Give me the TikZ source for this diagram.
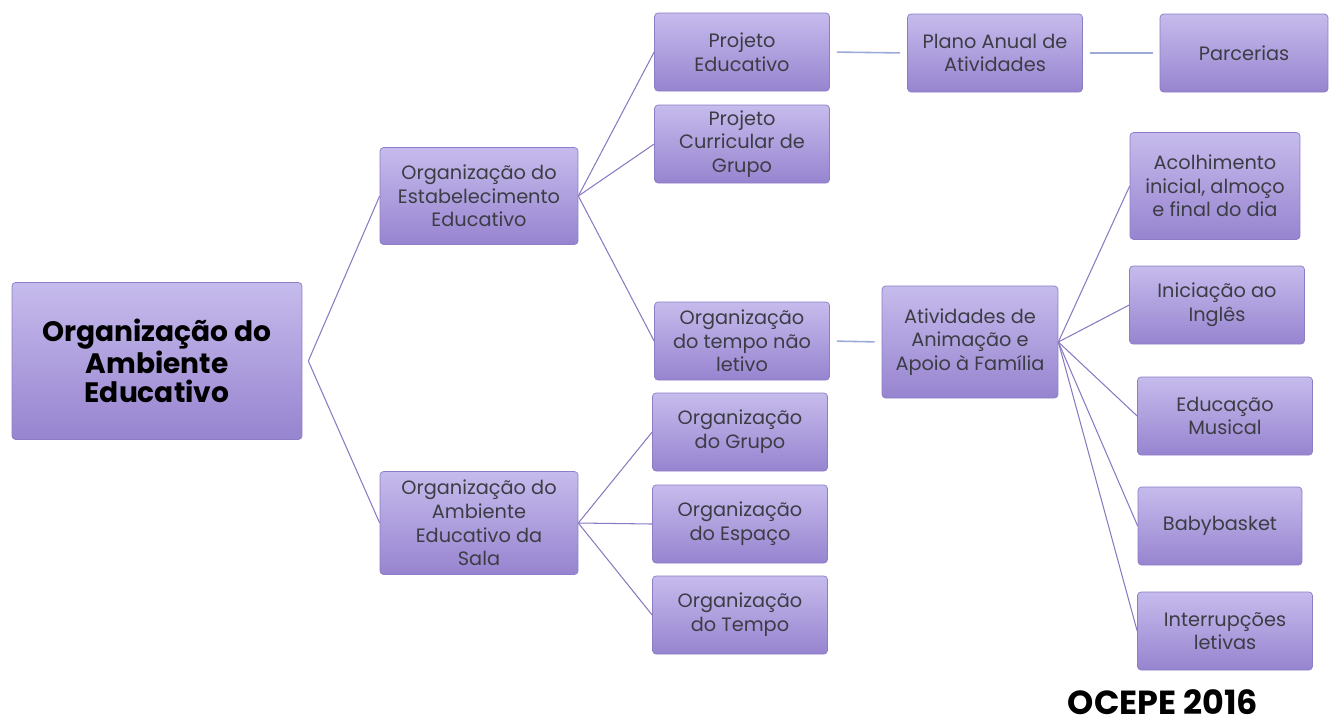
\documentclass[tikz,border=0pt]{standalone}
\usepackage{fontspec}
\setmainfont{Poppins}
\usetikzlibrary{positioning}

\definecolor{boxtop}{HTML}{C6BBEC}
\definecolor{boxbot}{HTML}{9784D0}
\definecolor{boxline}{HTML}{8C7DC4}
\definecolor{boxtext}{HTML}{3C3C44}
\definecolor{linkpurple}{HTML}{8A7AC2}
\definecolor{linkblue}{HTML}{9CAAD8}

\begin{document}
\begin{tikzpicture}[x=0.02cm, y=-0.02cm,
  box/.style={draw=boxline, line width=0.4pt, rounded corners=2pt,
    top color=boxtop, bottom color=boxbot, text=boxtext, align=center,
    inner sep=0pt, minimum width=3.5cm, minimum height=1.56cm,
    font=\fontsize{11}{13.5}\selectfont},
  rootbox/.style={box, text=black, minimum width=5.8cm, minimum height=3.14cm,
    font=\fontsize{16}{16.5}\selectfont\bfseries},
  link/.style={draw=linkpurple, line width=0.6pt},
  flat link/.style={draw=linkblue, line width=0.9pt}]
%\draw [help lines] (0,0) grid[step=50] (1329,725);
\useasboundingbox (0,0) rectangle (1329,725);

% first level
\node [rootbox] (root) at (157,361) {Organização do\\Ambiente\\Educativo};

% second level
\node [box, minimum width=3.96cm, minimum height=1.94cm] (estab) at (479,196) {Organização do\\Estabelecimento\\Educativo};
\node [box, minimum width=3.96cm, minimum height=2.06cm] (sala) at (479,523) {Organização do\\Ambiente\\Educativo da\\Sala};

% third level
\node [box] (projed) at (742,52) {Projeto\\Educativo};
\node [box] (projcur) at (742,144) {Projeto\\Curricular de\\Grupo};
\node [box] (naoletivo) at (742,341) {Organização\\do tempo não\\letivo};
\node [box] (grupo) at (740,432) {Organização\\do Grupo};
\node [box] (espaco) at (740,524) {Organização\\do Espaço};
\node [box] (tempo) at (740,615) {Organização\\do Tempo};

% fourth level
\node [box] (plano) at (995,53) {Plano Anual de\\Atividades};
\node [box, minimum width=3.52cm, minimum height=2.24cm] (aaaf) at (970,342) {Atividades de\\Animação e\\Apoio à Família};

% fifth level
\node [box, minimum width=3.36cm] (parcerias) at (1244,53) {Parcerias};
\node [box, minimum width=3.4cm, minimum height=2.14cm] (acolh) at (1215,186) {Acolhimento\\inicial, almoço\\e final do dia};
\node [box] (ingles) at (1217,305) {Iniciação ao\\Inglês};
\node [box] (musical) at (1225,416) {Educação\\Musical};
\node [box, minimum width=3.28cm] (baby) at (1220,526) {Babybasket};
\node [box] (interr) at (1225,631) {Interrupções\\letivas};

% connectors
\path (root.east) ++(6,0) coordinate (rootout);
\draw [link] (rootout) -- (estab.west);
\draw [link] (rootout) -- (sala.west);

\draw [link] (estab.east) -- (projed.west);
\draw [link] (estab.east) -- (projcur.west);
\draw [link] (estab.east) -- (naoletivo.west);

\draw [link] (sala.east) -- (grupo.west);
\draw [link] (sala.east) -- (espaco.west);
\draw [link] (sala.east) -- (tempo.west);

\draw [flat link, shorten <=4pt, shorten >=4pt] (projed.east) -- (plano.west);
\draw [flat link, shorten <=4pt, shorten >=4pt] (plano.east) -- (parcerias.west);
\draw [flat link, shorten <=4pt, shorten >=4pt] (naoletivo.east) -- (aaaf.west);

\draw [link] (aaaf.east) -- (acolh.west);
\draw [link] (aaaf.east) -- (ingles.west);
\draw [link] (aaaf.east) -- (musical.west);
\draw [link] (aaaf.east) -- (baby.west);
\draw [link] (aaaf.east) -- (interr.west);

% source
\node [font=\fontsize{19}{19}\selectfont\bfseries, inner sep=1pt] (ocepe) at (1163,702) {OCEPE 2016};

\end{tikzpicture}
\end{document}
